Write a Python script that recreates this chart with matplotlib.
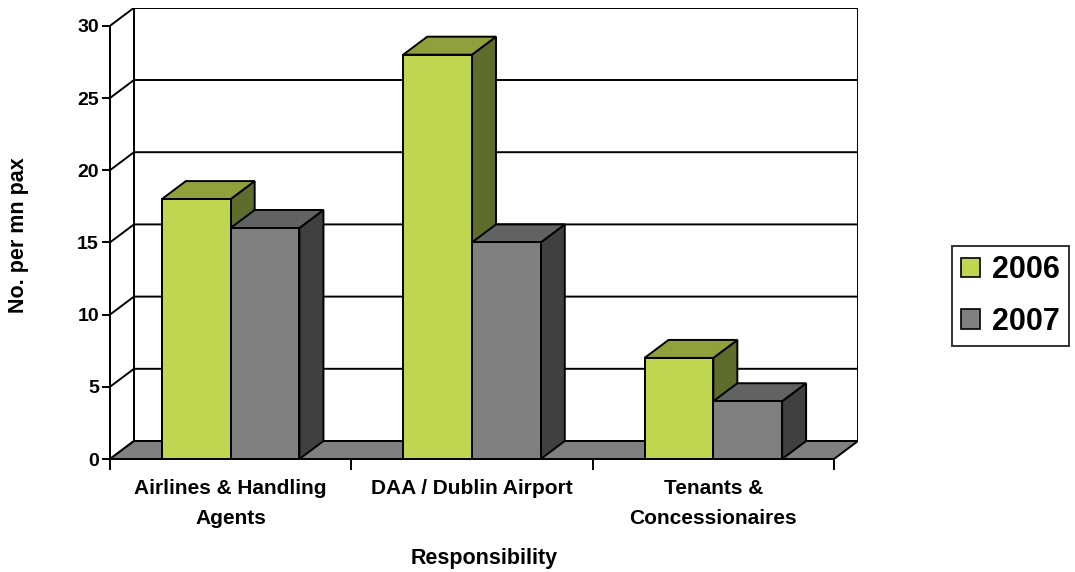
import matplotlib
matplotlib.use("Agg")
import matplotlib.pyplot as plt
from matplotlib.patches import Polygon, Patch

categories = ["Airlines & Handling\nAgents", "DAA / Dublin Airport", "Tenants &\nConcessionaires"]
series_names = ["2006", "2007"]
values_2006 = [18, 28, 7]
values_2007 = [16, 15, 4]
yticks = [0, 5, 10, 15, 20, 25, 30]

plt.rcParams['font.family'] = ['Liberation Sans', 'DejaVu Sans']

fig = plt.figure(figsize=(10.75, 5.72), dpi=100)
W, H = 1075, 572
# depth offset in data units
DX = 24 / 241.3
DY = 18 / 14.44
YMAX = 30
ax = fig.add_axes([110 / W, (H - 459) / H, (724 + 24) / W, (30 + DY) * 14.44 / H])
ax.set_xlim(0, 3 + DX)
ax.set_ylim(0, YMAX + DY)

LW = 1.4
faces = {
    "2006": ("#C0D651", "#8FA03C", "#5F6C2B"),
    "2007": ("#808080", "#626262", "#404040"),
}

# back wall
ax.add_patch(Polygon([(DX, DY), (3 + DX, DY), (3 + DX, YMAX + DY), (DX, YMAX + DY)],
                     closed=True, facecolor="white", edgecolor="black", lw=LW, zorder=1))
for v in yticks:
    ax.plot([0, DX, 3 + DX], [v, v + DY, v + DY], color="black", lw=LW, zorder=1.5,
            solid_capstyle="butt")

# floor
ax.add_patch(Polygon([(0, 0), (3, 0), (3 + DX, DY), (DX, DY)], closed=True,
                     facecolor="#808080", edgecolor="black", lw=LW, zorder=2))

gap = 0.215
bw = (1 - 2 * gap) / 2
for i in range(len(categories)):
    for j, (name, vals) in enumerate(zip(series_names, [values_2006, values_2007])):
        front, top, side = faces[name]
        x0 = i + gap + j * bw
        x1 = x0 + bw
        h = vals[i]
        z = 3 + i * 0.1 + j * 0.01
        ax.add_patch(Polygon([(x1, 0), (x1 + DX, DY), (x1 + DX, h + DY), (x1, h)], closed=True,
                             facecolor=side, edgecolor="black", lw=LW, zorder=z))
        ax.add_patch(Polygon([(x0, h), (x1, h), (x1 + DX, h + DY), (x0 + DX, h + DY)], closed=True,
                             facecolor=top, edgecolor="black", lw=LW, zorder=z))
        ax.add_patch(Polygon([(x0, 0), (x1, 0), (x1, h), (x0, h)], closed=True,
                             facecolor=front, edgecolor="black", lw=LW, zorder=z + 0.005))

for s in ["top", "right"]:
    ax.spines[s].set_visible(False)
ax.spines["left"].set_bounds(0, YMAX)
ax.spines["bottom"].set_bounds(0, 3)
for s in ["left", "bottom"]:
    ax.spines[s].set_linewidth(LW)
    ax.spines[s].set_zorder(10)

ax.set_yticks(yticks)
ax.set_yticklabels([str(v) for v in yticks], fontsize=14, fontweight="bold")
ax.tick_params(axis="y", length=6, width=LW, pad=2)
ax.set_xticks([0, 1, 2, 3])
ax.set_xticklabels([])
ax.tick_params(axis="x", which="major", length=8, width=LW)
ax.set_xticks([0.5, 1.5, 2.5], minor=True)
ax.set_xticklabels(categories, minor=True, fontsize=15, fontweight="bold", linespacing=1.75)
ax.tick_params(axis="x", which="minor", length=0, pad=14.5)

ax.set_xlabel("Responsibility", fontsize=15.5, fontweight="bold", labelpad=14)
fig.text(19 / W, (H - 235) / H, "No. per mn pax", rotation=90, fontsize=15.5, fontweight="bold",
         ha="center", va="center")

handles = [Patch(facecolor=faces[n][0], edgecolor="black", lw=1.2) for n in series_names]
leg = fig.legend(handles, series_names, loc="center left", bbox_to_anchor=(952 / W, (H - 296) / H),
                 frameon=True, fancybox=False, edgecolor="black", prop={"size": 22, "weight": "bold"},
                 handlelength=0.62, handleheight=0.62, handletextpad=0.4, borderpad=0.3,
                 labelspacing=0.7, borderaxespad=0)
leg.get_frame().set_linewidth(LW)

fig.savefig("out.png", dpi=100)
